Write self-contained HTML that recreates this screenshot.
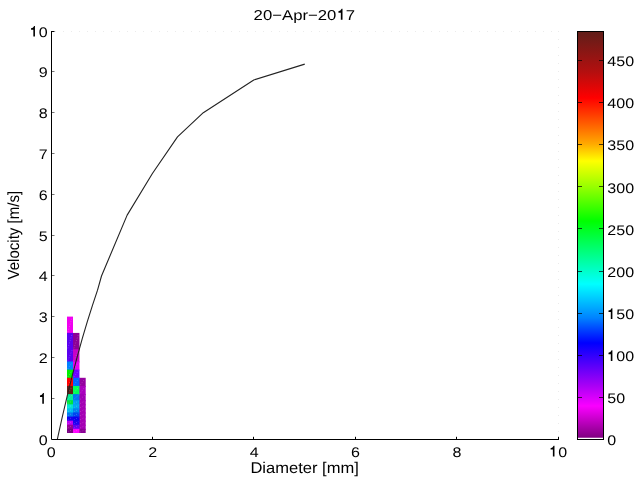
<!DOCTYPE html><html><head><meta charset="utf-8"><style>html,body{margin:0;padding:0;background:#fff;overflow:hidden}svg{display:block;will-change:transform}text{font-family:"Liberation Sans",sans-serif;fill:#000;text-rendering:geometricPrecision}</style></head><body>
<svg width="640" height="480" viewBox="0 0 640 480">
<rect x="0" y="0" width="640" height="480" fill="#fff"/>
<g><rect x="67.00" y="377.80" width="18.70" height="9.16" fill="rgb(150,0,160)"/><rect x="67.00" y="385.96" width="18.70" height="9.16" fill="rgb(170,0,190)"/><rect x="67.00" y="394.12" width="18.70" height="7.12" fill="rgb(160,0,180)"/><rect x="67.00" y="400.24" width="18.70" height="5.08" fill="rgb(165,0,180)"/><rect x="67.00" y="404.32" width="18.70" height="5.08" fill="rgb(165,0,180)"/><rect x="67.00" y="408.40" width="18.70" height="5.08" fill="rgb(165,0,180)"/><rect x="67.00" y="412.48" width="18.70" height="5.08" fill="rgb(165,0,180)"/><rect x="67.00" y="416.56" width="18.70" height="5.08" fill="rgb(165,0,180)"/><rect x="67.00" y="420.64" width="18.70" height="5.08" fill="rgb(165,0,180)"/><rect x="67.00" y="424.72" width="18.70" height="5.08" fill="rgb(165,0,180)"/><rect x="67.00" y="428.80" width="18.70" height="4.20" fill="rgb(140,0,150)"/><rect x="67.00" y="332.92" width="12.45" height="17.32" fill="rgb(140,0,150)"/><rect x="67.00" y="349.24" width="12.45" height="13.24" fill="rgb(200,0,200)"/><rect x="67.00" y="361.48" width="12.45" height="9.16" fill="rgb(230,0,240)"/><rect x="67.00" y="369.64" width="12.45" height="9.16" fill="rgb(110,0,255)"/><rect x="67.00" y="377.80" width="12.45" height="9.16" fill="rgb(0,100,255)"/><rect x="67.00" y="385.96" width="12.45" height="9.16" fill="rgb(0,255,90)"/><rect x="67.00" y="394.12" width="12.45" height="7.12" fill="rgb(0,120,240)"/><rect x="67.00" y="400.24" width="12.45" height="5.08" fill="rgb(0,160,240)"/><rect x="67.00" y="404.32" width="12.45" height="5.08" fill="rgb(0,170,240)"/><rect x="67.00" y="408.40" width="12.45" height="5.08" fill="rgb(0,130,240)"/><rect x="67.00" y="412.48" width="12.45" height="5.08" fill="rgb(0,70,240)"/><rect x="67.00" y="416.56" width="12.45" height="5.08" fill="rgb(10,0,240)"/><rect x="67.00" y="420.64" width="12.45" height="5.08" fill="rgb(30,0,240)"/><rect x="67.00" y="424.72" width="12.45" height="5.08" fill="rgb(100,0,240)"/><rect x="67.00" y="428.80" width="12.45" height="4.20" fill="rgb(255,0,255)"/><rect x="67.00" y="316.60" width="6.00" height="17.32" fill="rgb(240,0,240)"/><rect x="67.00" y="332.92" width="6.00" height="17.32" fill="rgb(90,0,240)"/><rect x="67.00" y="349.24" width="6.00" height="13.24" fill="rgb(90,0,240)"/><rect x="67.00" y="361.48" width="6.00" height="9.16" fill="rgb(0,130,255)"/><rect x="67.00" y="369.64" width="6.00" height="9.16" fill="rgb(0,240,0)"/><rect x="67.00" y="377.80" width="6.00" height="9.16" fill="rgb(255,0,0)"/><rect x="67.00" y="385.96" width="6.00" height="9.16" fill="rgb(100,30,20)"/><rect x="67.00" y="394.12" width="6.00" height="7.12" fill="rgb(0,240,150)"/><rect x="67.00" y="400.24" width="6.00" height="5.08" fill="rgb(0,230,60)"/><rect x="67.00" y="404.32" width="6.00" height="5.08" fill="rgb(0,230,210)"/><rect x="67.00" y="408.40" width="6.00" height="5.08" fill="rgb(0,190,240)"/><rect x="67.00" y="412.48" width="6.00" height="5.08" fill="rgb(0,120,240)"/><rect x="67.00" y="416.56" width="6.00" height="5.08" fill="rgb(20,0,240)"/><rect x="67.00" y="420.64" width="6.00" height="5.08" fill="rgb(190,0,240)"/><rect x="67.00" y="424.72" width="6.00" height="5.08" fill="rgb(150,0,150)"/><rect x="67.00" y="428.80" width="6.00" height="4.20" fill="rgb(120,0,130)"/></g>
<path d="M67.8,432.1 L72.2,429.6 M67.8,428.0 L72.2,425.5 M67.8,423.9 L72.2,421.4 M67.8,419.8 L72.2,417.4 M67.8,415.8 L72.2,413.3 M67.8,411.7 L72.2,409.2 M67.8,407.6 L72.2,405.1 M67.8,403.5 L72.2,401.0 M67.8,399.4 L72.2,394.9 M67.8,393.3 L72.2,386.8 M67.8,385.2 L72.2,378.6 M67.8,377.0 L72.2,370.4 M67.8,368.8 L72.2,362.3 M67.8,360.7 L72.2,350.0 M67.8,348.4 L72.2,333.7 M67.8,332.1 L72.2,317.4 M73.8,432.1 L78.7,429.6 M73.8,428.0 L78.7,425.5 M73.8,423.9 L78.7,421.4 M73.8,419.8 L78.7,417.4 M73.8,415.8 L78.7,413.3 M73.8,411.7 L78.7,409.2 M73.8,407.6 L78.7,405.1 M73.8,403.5 L78.7,401.0 M73.8,399.4 L78.7,394.9 M73.8,393.3 L78.7,386.8 M73.8,385.2 L78.7,378.6 M73.8,377.0 L78.7,370.4 M73.8,368.8 L78.7,362.3 M73.8,360.7 L78.7,350.0 M73.8,348.4 L78.7,333.7 M80.2,432.1 L84.9,429.6 M80.2,428.0 L84.9,425.5 M80.2,423.9 L84.9,421.4 M80.2,419.8 L84.9,417.4 M80.2,415.8 L84.9,413.3 M80.2,411.7 L84.9,409.2 M80.2,407.6 L84.9,405.1 M80.2,403.5 L84.9,401.0 M80.2,399.4 L84.9,394.9 M80.2,393.3 L84.9,386.8 M80.2,385.2 L84.9,378.6" stroke="#fff" stroke-opacity="0.28" stroke-width="0.8" stroke-dasharray="1 1.6" fill="none"/>
<path d="M55,31.5 H558 M558.5,31 V436" stroke="#000" stroke-opacity="0.08" stroke-width="1" stroke-dasharray="1 7" fill="none"/>
<polyline fill="none" stroke="#222" stroke-width="1.1" stroke-linejoin="round" points="57.41,439.00 59.51,429.35 62.04,418.00 67.11,396.29 72.18,375.85 77.25,356.60 82.32,338.47 87.39,321.40 92.46,305.32 97.53,290.17 101.50,276.00 127.15,215.10 152.40,173.50 177.50,136.90 203.30,112.70 253.75,80.00 304.75,64.10"/>
<path d="M51.5,31 V439.5 H559" fill="none" stroke="#000" stroke-width="1"/>
<path d="M51,31.5 h3.5" stroke="#000" stroke-width="1" fill="none"/>
<path d="M52,398.5 h2.5 M52,357.5 h2.5 M52,316.5 h2.5 M52,275.5 h2.5 M52,235.5 h2.5 M52,194.5 h2.5 M52,153.5 h2.5 M52,112.5 h2.5 M52,71.5 h2.5" stroke="#000" stroke-opacity="0.55" stroke-width="1" fill="none"/>
<path d="M152.5,439 v-2.2 M253.5,439 v-2.2 M355.5,439 v-2.2 M456.5,439 v-2.2 M558.5,439 v-2.2" stroke="#000" stroke-width="1" fill="none"/>
<text transform="translate(47.70,444.60) scale(1.146,1)" font-size="14.00" text-anchor="end">0</text>
<text transform="translate(47.70,403.80) scale(1.146,1)" font-size="14.00" text-anchor="end"> </text><path d="M43.08,393.10 L43.88,393.10 L43.88,403.80 L42.28,403.80 L42.28,396.90 L39.98,396.90 L39.98,395.50 Q42.08,395.30 43.08,393.10 Z" fill="#000"/>
<text transform="translate(47.70,363.00) scale(1.146,1)" font-size="14.00" text-anchor="end">2</text>
<text transform="translate(47.70,322.20) scale(1.146,1)" font-size="14.00" text-anchor="end">3</text>
<text transform="translate(47.70,281.40) scale(1.146,1)" font-size="14.00" text-anchor="end">4</text>
<text transform="translate(47.70,240.60) scale(1.146,1)" font-size="14.00" text-anchor="end">5</text>
<text transform="translate(47.70,199.80) scale(1.146,1)" font-size="14.00" text-anchor="end">6</text>
<text transform="translate(47.70,159.00) scale(1.146,1)" font-size="14.00" text-anchor="end">7</text>
<text transform="translate(47.70,118.20) scale(1.146,1)" font-size="14.00" text-anchor="end">8</text>
<text transform="translate(47.70,77.40) scale(1.146,1)" font-size="14.00" text-anchor="end">9</text>
<text transform="translate(47.70,36.60) scale(1.146,1)" font-size="14.00" text-anchor="end"> 0</text><path d="M34.15,25.90 L34.95,25.90 L34.95,36.60 L33.35,36.60 L33.35,29.70 L31.05,29.70 L31.05,28.30 Q33.15,28.10 34.15,25.90 Z" fill="#000"/>
<text transform="translate(51.30,456.50) scale(1.146,1)" font-size="14.00" text-anchor="middle">0</text>
<text transform="translate(152.70,456.50) scale(1.146,1)" font-size="14.00" text-anchor="middle">2</text>
<text transform="translate(254.10,456.50) scale(1.146,1)" font-size="14.00" text-anchor="middle">4</text>
<text transform="translate(355.50,456.50) scale(1.146,1)" font-size="14.00" text-anchor="middle">6</text>
<text transform="translate(456.90,456.50) scale(1.146,1)" font-size="14.00" text-anchor="middle">8</text>
<text transform="translate(558.30,456.50) scale(1.146,1)" font-size="14.00" text-anchor="middle"> 0</text><path d="M553.68,445.80 L554.48,445.80 L554.48,456.50 L552.88,456.50 L552.88,449.60 L550.58,449.60 L550.58,448.20 Q552.68,448.00 553.68,445.80 Z" fill="#000"/>
<text transform="translate(304.30,19.80) scale(1.170,1)" font-size="14.30" text-anchor="middle">20−Apr−20 7</text><path d="M341.67,8.87 L342.50,8.87 L342.50,19.80 L340.83,19.80 L340.83,12.75 L338.44,12.75 L338.44,11.32 Q340.63,11.12 341.67,8.87 Z" fill="#000"/>
<text transform="translate(304.60,472.80) scale(1.066,1)" font-size="15.50" text-anchor="middle">Diameter [mm]</text>
<text transform="translate(19.0,235.2) rotate(-90) scale(0.935,1)" font-size="16.1" text-anchor="middle">Velocity [m/s]</text>
<defs><linearGradient id="cm" gradientUnits="userSpaceOnUse" x1="0" y1="437.75" x2="0" y2="31.00"><stop offset="0.0000" stop-color="rgb(128,0,128)"/><stop offset="0.0781" stop-color="rgb(250,0,255)"/><stop offset="0.1272" stop-color="rgb(170,0,245)"/><stop offset="0.2329" stop-color="rgb(0,0,255)"/><stop offset="0.2649" stop-color="rgb(0,65,255)"/><stop offset="0.2944" stop-color="rgb(0,130,255)"/><stop offset="0.3780" stop-color="rgb(0,255,255)"/><stop offset="0.4173" stop-color="rgb(0,255,190)"/><stop offset="0.5329" stop-color="rgb(0,255,0)"/><stop offset="0.6165" stop-color="rgb(150,255,0)"/><stop offset="0.6804" stop-color="rgb(255,255,0)"/><stop offset="0.7222" stop-color="rgb(255,170,0)"/><stop offset="0.7640" stop-color="rgb(255,105,0)"/><stop offset="0.8353" stop-color="rgb(255,0,0)"/><stop offset="0.8992" stop-color="rgb(180,15,15)"/><stop offset="1.0000" stop-color="rgb(95,30,25)"/></linearGradient></defs>
<rect x="577" y="31.00" width="27" height="406.75" fill="url(#cm)"/>
<rect x="577.5" y="31.5" width="26" height="408" fill="none" stroke="#000" stroke-width="1"/>
<text transform="translate(607.30,445.30) scale(1.146,1)" font-size="14.00" text-anchor="start">0</text>
<text transform="translate(607.30,403.18) scale(1.146,1)" font-size="14.00" text-anchor="start">50</text>
<text transform="translate(607.30,361.05) scale(1.146,1)" font-size="14.00" text-anchor="start"> 00</text><path d="M611.60,350.35 L612.40,350.35 L612.40,361.05 L610.80,361.05 L610.80,354.15 L608.50,354.15 L608.50,352.75 Q610.60,352.55 611.60,350.35 Z" fill="#000"/>
<text transform="translate(607.30,318.93) scale(1.146,1)" font-size="14.00" text-anchor="start"> 50</text><path d="M611.60,308.23 L612.40,308.23 L612.40,318.93 L610.80,318.93 L610.80,312.03 L608.50,312.03 L608.50,310.62 Q610.60,310.43 611.60,308.23 Z" fill="#000"/>
<text transform="translate(607.30,276.80) scale(1.146,1)" font-size="14.00" text-anchor="start">200</text>
<text transform="translate(607.30,234.68) scale(1.146,1)" font-size="14.00" text-anchor="start">250</text>
<text transform="translate(607.30,192.55) scale(1.146,1)" font-size="14.00" text-anchor="start">300</text>
<text transform="translate(607.30,150.43) scale(1.146,1)" font-size="14.00" text-anchor="start">350</text>
<text transform="translate(607.30,108.30) scale(1.146,1)" font-size="14.00" text-anchor="start">400</text>
<text transform="translate(607.30,66.18) scale(1.146,1)" font-size="14.00" text-anchor="start">450</text>
<path d="M578,397.5 h4 M603,397.5 h-4 M578,355.5 h4 M603,355.5 h-4 M578,313.5 h4 M603,313.5 h-4 M578,271.5 h4 M603,271.5 h-4 M578,228.5 h4 M603,228.5 h-4 M578,186.5 h4 M603,186.5 h-4 M578,144.5 h4 M603,144.5 h-4 M578,102.5 h4 M603,102.5 h-4 M578,60.5 h4 M603,60.5 h-4" stroke="#000" stroke-opacity="0.7" stroke-width="1" fill="none"/>
</svg></body></html>
